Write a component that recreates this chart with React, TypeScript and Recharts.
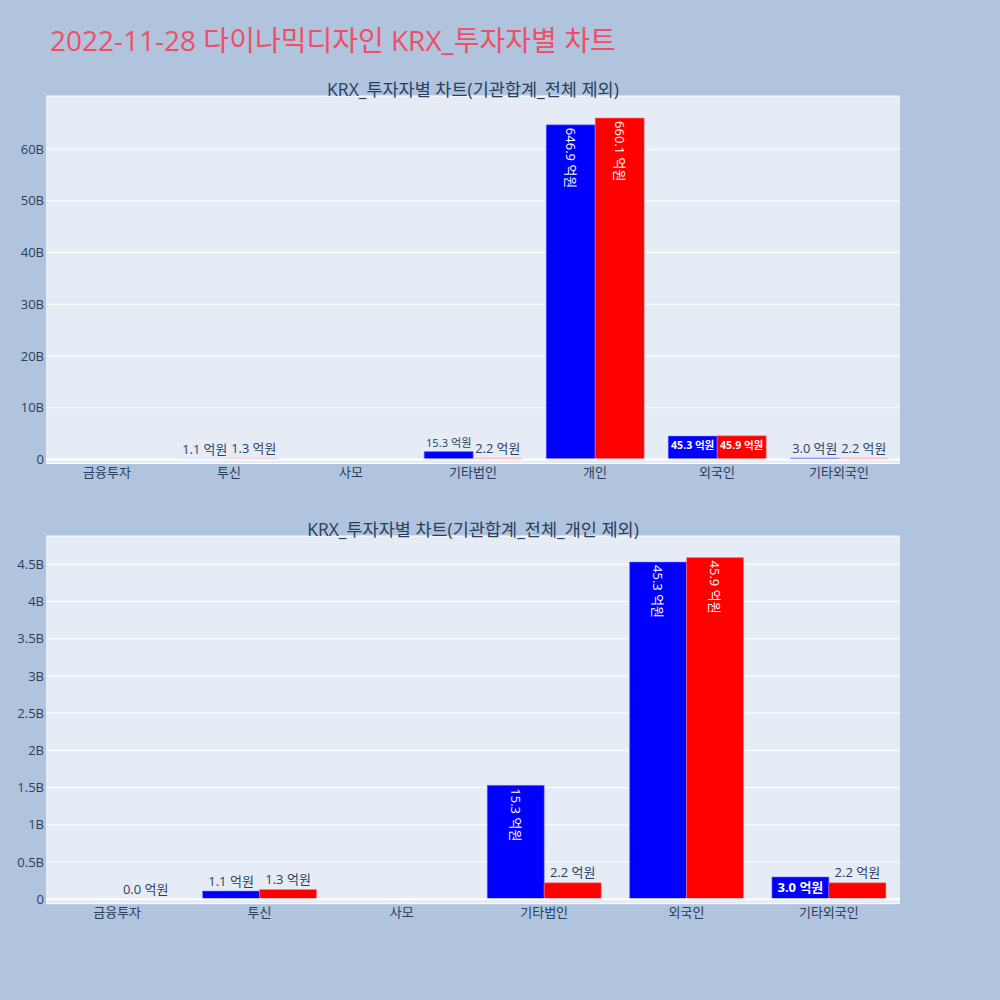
import React from "react";
import { BarChart, Bar, XAxis, YAxis, CartesianGrid, LabelList, ReferenceLine } from "recharts";

const topCategories = ["금융투자", "투신", "사모", "기타법인", "개인", "외국인", "기타외국인"];
const topBlue = [null, 1.1e8, null, 15.3e8, 646.9e8, 45.3e8, 3.0e8];
const topRed = [null, 1.3e8, null, 2.2e8, 660.1e8, 45.9e8, 2.2e8];
const topTicks = [0, 10e9, 20e9, 30e9, 40e9, 50e9, 60e9];

const bottomCategories = ["금융투자", "투신", "사모", "기타법인", "외국인", "기타외국인"];
const bottomBlue = [null, 1.1e8, null, 15.3e8, 45.3e8, 3.0e8];
const bottomRed = [0.02e8, 1.3e8, null, 2.2e8, 45.9e8, 2.2e8];
const bottomTicks = [0, 0.5e9, 1e9, 1.5e9, 2e9, 2.5e9, 3e9, 3.5e9, 4e9, 4.5e9];

const FONT = "'Open Sans', 'Noto Sans CJK KR', sans-serif";
const INK = "#2a3f5f";
const FS = 13;
const PAD = 3;
const TEXT_H = 15;

const toLabel = (v: number | null) => (v == null ? "" : (v / 1e8).toFixed(1) + " 억원");
const fmtTick = (v: number) => (v === 0 ? "0" : +(v / 1e9).toFixed(1) + "B");

let ctx: CanvasRenderingContext2D | null = null;
const measure = (s: string) => {
  if (!ctx) ctx = document.createElement("canvas").getContext("2d");
  if (!ctx) return s.length * 7.5;
  ctx.font = `${FS}px ${FONT}`;
  return ctx.measureText(s).width;
};

// plotly-like "auto" text placement
const BarText = (props: any) => {
  const { x, y, width, height, value } = props;
  if (!value) return null;
  const w = measure(value);
  const bw = Math.abs(width);
  const bh = Math.abs(height);
  const fits = w + 2 * PAD <= bw && TEXT_H + 2 * PAD <= bh;
  const fitsRot = w + 2 * PAD <= bh && TEXT_H + 2 * PAD <= bw;
  const fitsShrunk = bh >= TEXT_H * (bw / w);
  const cx = x + bw / 2;
  if (w > 0 && (fits || fitsRot || fitsShrunk)) {
    const rotate = !fits && (w > TEXT_H) !== (bw > bh);
    if (rotate) {
      const s = Math.min(1, (bw - 2 * PAD) / TEXT_H, (bh - 2 * PAD) / w);
      return (
        <text x={cx} y={y + PAD} transform={`rotate(90 ${cx} ${y + PAD})`} fill="#fff"
          fontSize={FS * s} fontFamily={FONT} textAnchor="start" dominantBaseline="central">
          {value}
        </text>
      );
    }
    const s = Math.min(1, (bw - 2 * PAD) / w, (bh - 2 * PAD) / TEXT_H);
    return (
      <text x={cx} y={y + PAD + (TEXT_H * s) / 2} fill="#fff" fontWeight="bold"
        fontSize={FS * s} fontFamily={FONT} textAnchor="middle" dominantBaseline="central">
        {value}
      </text>
    );
  }
  const s = Math.min(1, bw / (w + 4));
  return (
    <text x={cx} y={y - PAD - (TEXT_H * s) / 2} fill={INK} fontSize={FS * s}
      fontFamily={FONT} textAnchor="middle" dominantBaseline="central">
      {value}
    </text>
  );
};

const build = (cats: string[], blue: (number | null)[], red: (number | null)[]) =>
  cats.map((c, i) => ({
    name: c,
    blue: blue[i],
    red: red[i],
    blueLabel: toLabel(blue[i]),
    redLabel: toLabel(red[i]),
  }));

const tick = { fill: INK, fontSize: FS, fontFamily: FONT };

const Panel = ({ data, ticks, domain, top, marginTop, marginBottom }: any) => (
  <div style={{ position: "absolute", left: 0, top, width: 1000, height: 500 }}>
    <BarChart width={1000} height={500} data={data} barCategoryGap="10%" barGap={0}
      margin={{ top: marginTop, right: 100, left: 0, bottom: marginBottom }}>
      <CartesianGrid fill="#E5ECF6" stroke="#fff" vertical={false} />
      <XAxis dataKey="name" axisLine={false} tickLine={false} height={30} tick={tick}
        tickSize={0} tickMargin={4} />
      <YAxis width={46} domain={domain} ticks={ticks} allowDataOverflow axisLine={false}
        tickLine={false} tickFormatter={fmtTick} tick={tick} tickSize={0} tickMargin={2} />
      <ReferenceLine y={0} stroke="#fff" strokeWidth={2} />
      <Bar dataKey="blue" fill="#0000ff" stroke="#8080ff" strokeWidth={0.5} isAnimationActive={false}>
        <LabelList dataKey="blueLabel" content={BarText} />
      </Bar>
      <Bar dataKey="red" fill="#ff0000" stroke="#ff8080" strokeWidth={0.5} isAnimationActive={false}>
        <LabelList dataKey="redLabel" content={BarText} />
      </Bar>
    </BarChart>
  </div>
);

const subTitle = { position: "absolute", left: 46, width: 854, textAlign: "center", fontSize: 17.5, lineHeight: "20px", color: INK, whiteSpace: "nowrap" } as const;

export default function App() {
  const topData = build(topCategories, topBlue, topRed);
  const bottomData = build(bottomCategories, bottomBlue, bottomRed);
  return (
    <div style={{ position: "absolute", left: 0, top: 0, width: 1000, height: 1000, background: "#B0C4DE", fontFamily: FONT, overflow: "hidden" }}>
      <div style={{ position: "absolute", left: 50, top: 25, fontSize: 28, lineHeight: "30px", color: "#EF4F66", whiteSpace: "nowrap" }}>
        2022-11-28 다이나믹디자인 KRX_투자자별 차트
      </div>
      <Panel data={topData} ticks={topTicks} domain={[-0.77e9, 70.27e9]} top={0} marginTop={96} marginBottom={6.5} />
      <Panel data={bottomData} ticks={bottomTicks} domain={[-0.06e9, 4.88e9]} top={500} marginTop={36} marginBottom={66.3} />
      <div style={{ ...subTitle, top: 79 }}>KRX_투자자별 차트(기관합계_전체 제외)</div>
      <div style={{ ...subTitle, top: 519 }}>KRX_투자자별 차트(기관합계_전체_개인 제외)</div>
    </div>
  );
}
